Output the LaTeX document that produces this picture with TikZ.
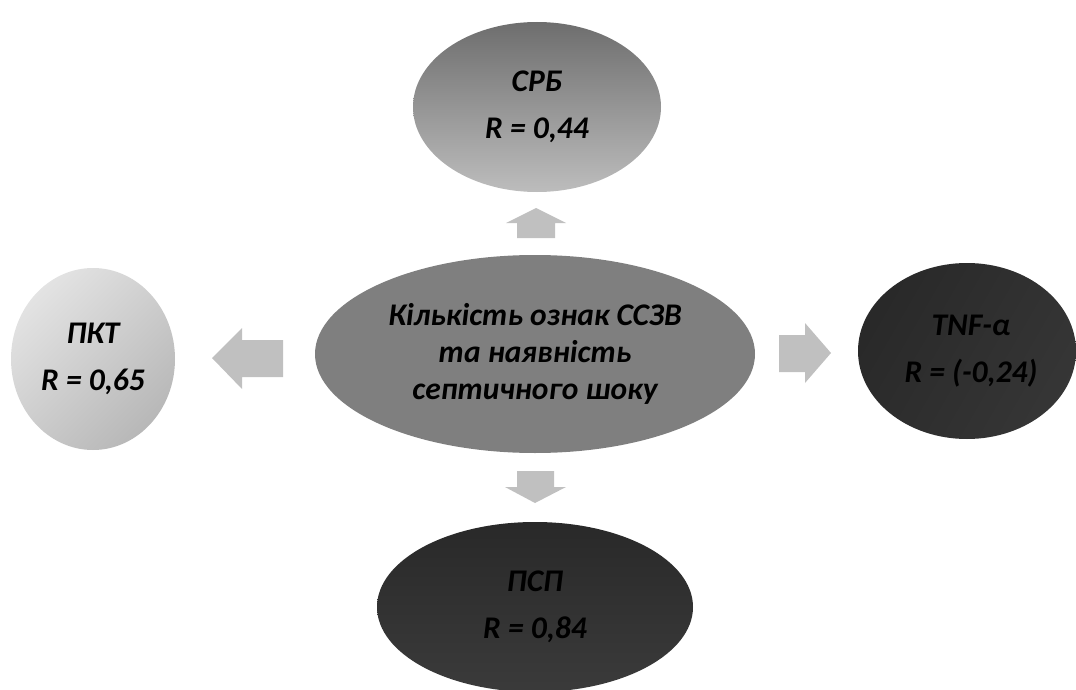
\documentclass[tikz,border=0pt]{standalone}
\usepackage{fontspec}
\setmainfont{Carlito}
\usetikzlibrary{shapes.geometric}
\definecolor{arrowgray}{HTML}{C0C0C0}
\definecolor{hubgray}{HTML}{7F7F7F}
\tikzset{
  blob/.style={ellipse, inner sep=0pt, align=center, text=black},
  sat/.style={blob, font=\fontsize{31.5}{47}\selectfont\bfseries\itshape},
  hub/.style={blob, fill=hubgray, font=\fontsize{31.5}{37}\selectfont\bfseries\itshape},
  arrowfill/.style={fill=arrowgray},
}
\begin{document}
\begin{tikzpicture}[x=1pt, y=-1pt]
\useasboundingbox (0,0) rectangle (1076,690);

% central node
\node[hub, minimum width=440pt, minimum height=198pt] (hub) at (535,354)
  {Кількість ознак ССЗВ\\та наявність\\септичного шоку};

% surrounding nodes
\node[sat, minimum width=248pt, minimum height=170pt,
      top color=black!57, bottom color=black!26] (crp) at (537,107)
  {СРБ\\R = 0,44};
\node[sat, minimum width=164pt, minimum height=182pt,
      shading=axis, left color=black!11, right color=black!28, shading angle=45] (pct) at (93,359)
  {ПКТ\\R = 0,65};
\node[sat, minimum width=218pt, minimum height=176pt,
      shading=axis, left color=black!84, right color=black!79, shading angle=60] (tnf) at (967,351)
  {\hspace*{8pt}TNF-α\\\hspace*{8pt}R = (-0,24)};
\node[sat, minimum width=316pt, minimum height=170pt,
      top color=black!84, bottom color=black!77] (psp) at (535,607)
  {ПСП\\R = 0,84};

% block arrows from the hub outwards
\fill[arrowfill] (517,238) -- (517,223) -- (506,223) -- (536,208) -- (566,223) -- (555,223) -- (555,238) -- cycle;
\fill[arrowfill] (283,340) -- (242,340) -- (242,328) -- (212,358) -- (242,389) -- (242,377) -- (283,377) -- cycle;
\fill[arrowfill] (779,335) -- (805,335) -- (805,323) -- (831,353) -- (805,383) -- (805,372) -- (779,372) -- cycle;
\fill[arrowfill] (517,471) -- (554,471) -- (554,487) -- (566,487) -- (535,503) -- (505,487) -- (517,487) -- cycle;
\end{tikzpicture}
\end{document}
